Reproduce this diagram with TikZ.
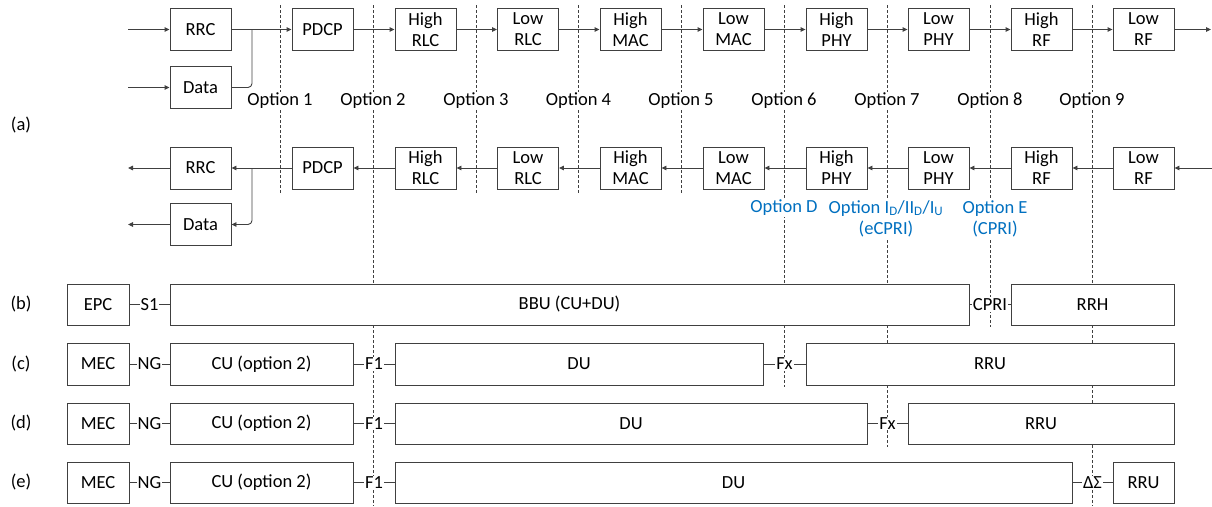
\documentclass[tikz,border=0pt]{standalone}
\usepackage{fontspec}
\setmainfont{Carlito}
\usetikzlibrary{arrows.meta}
\definecolor{optblue}{RGB}{0,112,192}
\definecolor{lncol}{RGB}{64,64,64}
\begin{document}
\begin{tikzpicture}[x=1pt,y=-1pt,
  every node/.style={font=\fontsize{18.5}{21}\selectfont, text=black},
  blk/.style={draw=lncol, fill=white, line width=0.9pt, minimum height=42pt, inner sep=0pt, align=center},
  sb/.style={blk, minimum width=61pt},
  ln/.style={draw=lncol, line width=0.9pt},
  arr/.style={ln, -{Triangle[length=5pt,width=4.5pt]}},
  cut/.style={draw=lncol, dash pattern=on 3pt off 2pt, line width=0.8pt},
  opt/.style={fill=white, inner sep=1pt},
  blue/.style={fill=white, inner sep=1pt, text=optblue, align=center},
  itf/.style={fill=white, inner sep=1pt},
  rowlbl/.style={inner sep=0pt}
]
\useasboundingbox (0,0) rectangle (1212,506);

% cut lines
\coordinate (c1t) at (280,5);   \coordinate (c1b) at (280,193);
\coordinate (c2t) at (373,5);   \coordinate (c2b) at (373,506);
\coordinate (c3t) at (476,5);   \coordinate (c3b) at (476,193);
\coordinate (c4t) at (578.5,5); \coordinate (c4b) at (578.5,193);
\coordinate (c5t) at (681,5);   \coordinate (c5b) at (681,193);
\coordinate (c6t) at (784,5);   \coordinate (c6b) at (784,387);
\coordinate (c7t) at (887,5);   \coordinate (c7b) at (887,447);
\coordinate (c8t) at (990,5);   \coordinate (c8b) at (990,327);
\coordinate (c9t) at (1092,5);  \coordinate (c9b) at (1092,506);
\foreach \i in {1,...,9} { \draw[cut] (c\i t) -- (c\i b); }

% row 1 (downlink)
\node[sb] (rrc1) at (200.5,29.5) {RRC};
\node[sb] (data1) at (200.5,87.5) {Data};
\node[sb] (pdcp1) at (322.5,29.5) {PDCP};
\node[sb] (hrlc1) at (425.5,29.5) {High\\RLC};
\node[sb] (lrlc1) at (528,29.5) {Low\\RLC};
\node[sb] (hmac1) at (630.5,29.5) {High\\MAC};
\node[sb] (lmac1) at (733.5,29.5) {Low\\MAC};
\node[sb] (hphy1) at (836.5,29.5) {High\\PHY};
\node[sb] (lphy1) at (938.5,29.5) {Low\\PHY};
\node[sb] (hrf1) at (1041.5,29.5) {High\\RF};
\node[sb] (lrf1) at (1143.5,29.5) {Low\\RF};

\coordinate (in1) at (128,29.5);
\coordinate (in2) at (128,87.5);
\coordinate (j1) at (252,29.5);
\coordinate (out1) at (1211,29.5);
\draw[arr] (in1) -- (rrc1);
\draw[arr] (in2) -- (data1);
\draw[ln, rounded corners=4pt] (data1.east) -| (j1);
\draw[arr] (rrc1) -- (pdcp1);
\draw[arr] (pdcp1) -- (hrlc1);
\draw[arr] (hrlc1) -- (lrlc1);
\draw[arr] (lrlc1) -- (hmac1);
\draw[arr] (hmac1) -- (lmac1);
\draw[arr] (lmac1) -- (hphy1);
\draw[arr] (hphy1) -- (lphy1);
\draw[arr] (lphy1) -- (hrf1);
\draw[arr] (hrf1) -- (lrf1);
\draw[arr] (lrf1) -- (out1);

% option labels
\node[opt] (o1) at (280,101) {Option 1};
\node[opt] (o2) at (373,101) {Option 2};
\node[opt] (o3) at (476,101) {Option 3};
\node[opt] (o4) at (578.5,101) {Option 4};
\node[opt] (o5) at (681,101) {Option 5};
\node[opt] (o6) at (784,101) {Option 6};
\node[opt] (o7) at (887,101) {Option 7};
\node[opt] (o8) at (990,101) {Option 8};
\node[opt] (o9) at (1092,101) {Option 9};

% row 2 (uplink)
\node[sb] (rrc2) at (200.5,168) {RRC};
\node[sb] (data2) at (200.5,224.5) {Data};
\node[sb] (pdcp2) at (322.5,168) {PDCP};
\node[sb] (hrlc2) at (425.5,168) {High\\RLC};
\node[sb] (lrlc2) at (528,168) {Low\\RLC};
\node[sb] (hmac2) at (630.5,168) {High\\MAC};
\node[sb] (lmac2) at (733.5,168) {Low\\MAC};
\node[sb] (hphy2) at (836.5,168) {High\\PHY};
\node[sb] (lphy2) at (938.5,168) {Low\\PHY};
\node[sb] (hrf2) at (1041.5,168) {High\\RF};
\node[sb] (lrf2) at (1143.5,168) {Low\\RF};

\coordinate (o2a) at (128,168);
\coordinate (o2b) at (128,224.5);
\coordinate (j2) at (252,168);
\coordinate (in3) at (1212,168);
\draw[arr] (in3) -- (lrf2);
\draw[arr] (lrf2) -- (hrf2);
\draw[arr] (hrf2) -- (lphy2);
\draw[arr] (lphy2) -- (hphy2);
\draw[arr] (hphy2) -- (lmac2);
\draw[arr] (lmac2) -- (hmac2);
\draw[arr] (hmac2) -- (lrlc2);
\draw[arr] (lrlc2) -- (hrlc2);
\draw[arr] (hrlc2) -- (pdcp2);
\draw[arr] (pdcp2) -- (rrc2);
\draw[arr, rounded corners=4pt] (j2) |- (data2.east);
\draw[arr] (rrc2) -- (o2a);
\draw[arr] (data2) -- (o2b);

% blue option labels
\node[blue] (od) at (784,208) {Option D};
\node[blue] (oi) at (886,218.5) {Option I\textsubscript{D}/II\textsubscript{D}/I\textsubscript{U}\\(eCPRI)};
\node[blue] (oe) at (995,218.5) {Option E\\(CPRI)};

% row labels
\node[rowlbl] (la) at (21,125) {(a)};
\node[rowlbl] (lb) at (21,304.5) {(b)};
\node[rowlbl] (lc) at (21,364) {(c)};
\node[rowlbl] (ld) at (21,423.5) {(d)};
\node[rowlbl] (le) at (21,482.5) {(e)};

% (b)
\node[blk, minimum width=62pt, minimum height=41pt] (epc) at (98,304.5) {EPC};
\node[blk, minimum width=799pt, minimum height=41pt] (bbu) at (569.5,304.5) {BBU (CU+DU)};
\node[blk, minimum width=163pt, minimum height=41pt] (rrh) at (1092.5,304.5) {RRH};
\draw[ln] (epc) -- node[itf] {S1} (bbu);
\draw[ln] (bbu) -- node[itf] {CPRI} (rrh);

% (c)
\node[blk, minimum width=62pt, minimum height=42pt] (mec3) at (98,364) {MEC};
\node[blk, minimum width=183pt, minimum height=42pt] (cu3) at (261.5,364) {CU (option 2)};
\node[blk, minimum width=368pt, minimum height=42pt] (du3) at (579,364) {DU};
\node[blk, minimum width=368pt, minimum height=42pt] (rru3) at (990,364) {RRU};
\draw[ln] (mec3) -- node[itf] {NG} (cu3);
\draw[ln] (cu3) -- node[itf] {F1} (du3);
\draw[ln] (du3) -- node[itf] {Fx} (rru3);

% (d)
\node[blk, minimum width=62pt, minimum height=41pt] (mec4) at (98,423.5) {MEC};
\node[blk, minimum width=183pt, minimum height=41pt] (cu4) at (261.5,423.5) {CU (option 2)};
\node[blk, minimum width=472pt, minimum height=41pt] (du4) at (631,423.5) {DU};
\node[blk, minimum width=266pt, minimum height=41pt] (rru4) at (1041,423.5) {RRU};
\draw[ln] (mec4) -- node[itf] {NG} (cu4);
\draw[ln] (cu4) -- node[itf] {F1} (du4);
\draw[ln] (du4) -- node[itf] {Fx} (rru4);

% (e)
\node[blk, minimum width=62pt, minimum height=41pt] (mec5) at (98,482.5) {MEC};
\node[blk, minimum width=183pt, minimum height=41pt] (cu5) at (261.5,482.5) {CU (option 2)};
\node[blk, minimum width=677pt, minimum height=41pt] (du5) at (733.5,482.5) {DU};
\node[blk, minimum width=61pt, minimum height=41pt] (rru5) at (1143.5,482.5) {RRU};
\draw[ln] (mec5) -- node[itf] {NG} (cu5);
\draw[ln] (cu5) -- node[itf] {F1} (du5);
\draw[ln] (du5) -- node[itf] {ΔΣ} (rru5);
\end{tikzpicture}
\end{document}
